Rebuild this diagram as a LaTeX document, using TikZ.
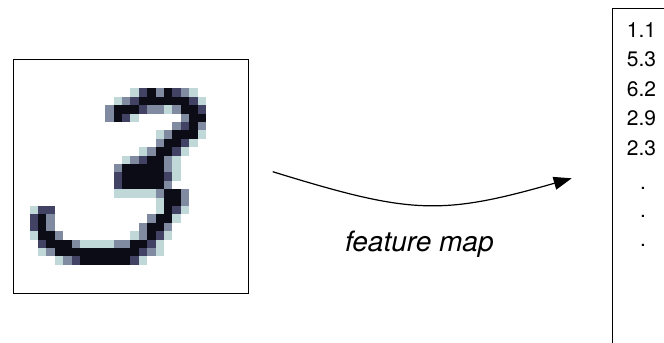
\documentclass[tikz,border=0pt]{standalone}
\usepackage{fontspec}
\setmainfont{TeX Gyre Heros}
\usetikzlibrary{arrows.meta}
\definecolor{pxa}{RGB}{192,216,216}
\definecolor{pxb}{RGB}{128,138,160}
\definecolor{pxc}{RGB}{66,66,100}
\definecolor{pxd}{RGB}{12,12,22}
\begin{document}
\begin{tikzpicture}[x=1bp,y=-1bp,
  frame/.style={draw=black,line width=1.1bp,inner sep=0pt,anchor=north west},
  num/.style={anchor=base west,inner sep=0pt,font=\fontsize{21bp}{25bp}\selectfont},
  lbl/.style={anchor=base west,inner sep=0pt,font=\itshape\fontsize{28bp}{33bp}\selectfont},
  flow/.style={line width=1.2bp,-{Triangle[length=18bp,width=13bp]}}]
\useasboundingbox (0,0) rectangle (664,342);
\clip (0,0) rectangle (664,342);
% pixels of the digit
\foreach \c/\r in {12/0,19/0,10/1,20/1,16/2,12/3,15/5,20/5,19/6,13/7,18/7,11/8,17/8,17/9,17/10,
  10/12,11/12,12/12,13/12,14/12,15/13,0/14,15/14,18/14,17/15,0/17,12/17,16/17,
  6/18,7/18,8/18,9/18,15/18,1/19,15/19,3/20,13/20}
  \fill[pxa] ({29.5+8.4*\c},{88.3+8.4*\r}) rectangle ++(8.5,8.5);
\foreach \c/\r in {15/0,18/0,11/1,9/2,14/2,15/2,17/2,9/3,18/3,17/4,20/4,16/5,15/6,14/7,12/8,16/8,
  10/9,16/9,16/11,15/12,18/12,18/13,2/15,14/15,2/16,13/16,16/16,3/17,13/17,5/18,10/18,11/18,
  2/19,14/19,4/20}
  \fill[pxb] ({29.5+8.4*\c},{88.3+8.4*\r}) rectangle ++(8.5,8.5);
\foreach \c/\r in {13/0,17/0,12/1,19/1,13/2,20/2,11/3,18/4,18/6,17/7,13/8,10/10,16/10,10/11,
  1/14,2/14,17/14,0/15,0/16,15/17,1/18,14/18,13/19,5/20,12/20}
  \fill[pxc] ({29.5+8.4*\c},{88.3+8.4*\r}) rectangle ++(8.5,8.5);
\foreach \c/\r in {14/0,16/0,13/1,14/1,15/1,16/1,17/1,18/1,10/2,11/2,12/2,18/2,19/2,
  10/3,19/3,20/3,19/4,17/5,18/5,19/5,16/6,17/6,15/7,16/7,14/8,15/8,
  11/9,12/9,13/9,14/9,15/9,11/10,12/10,13/10,14/10,15/10,11/11,12/11,13/11,14/11,15/11,
  16/12,17/12,16/13,17/13,16/14,1/15,15/15,16/15,1/16,14/16,15/16,1/17,2/17,14/17,
  2/18,3/18,4/18,12/18,13/18,3/19,4/19,5/19,6/19,7/19,8/19,9/19,10/19,11/19,12/19,
  6/20,7/20,8/20,9/20,10/20,11/20}
  \fill[pxd] ({29.5+8.4*\c},{88.3+8.4*\r}) rectangle ++(8.5,8.5);
% image frame
\node[frame,minimum width=235.6bp,minimum height=234.3bp] (img) at (12.7,59) {};
% feature vector box (runs off the picture)
\node[frame,minimum width=100bp,minimum height=360bp] (vec) at (612.3,8.3) {};
\node[num] (n1) at (626.7,37.3) {1.1};
\node[num] (n2) at (626.7,66.5) {5.3};
\node[num] (n3) at (626.7,96) {6.2};
\node[num] (n4) at (626.7,125.5) {2.9};
\node[num] (n5) at (626.7,155) {2.3};
\node[num] (d1) at (640,189) {.};
\node[num] (d2) at (640,217) {.};
\node[num] (d3) at (640,246) {.};
% arrow
\coordinate (as) at (272.7,171.7);
\coordinate (ae) at (571.7,178.3);
\draw[flow] (as) .. controls (410,214) and (440,216) .. (ae);
\node[lbl] (fm) at (345,251.5) {feature map};
\end{tikzpicture}
\end{document}
